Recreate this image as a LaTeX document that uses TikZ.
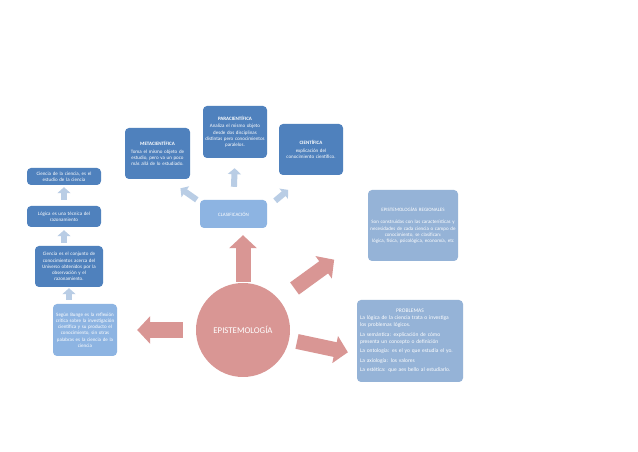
\documentclass[tikz,border=0pt]{standalone}
\usepackage{fontspec}
\setmainfont{Carlito}
\usetikzlibrary{arrows.meta, positioning, calc}
\definecolor{boxdark}{RGB}{79,129,189}
\definecolor{boxlight}{RGB}{141,180,226}
\definecolor{boxside}{RGB}{149,179,215}
\definecolor{epipink}{RGB}{217,150,148}
\definecolor{arrowgray}{RGB}{185,205,229}
\tikzset{
  darkbox/.style={rectangle, fill=boxdark, text=white, align=center,
    rounded corners=4pt, inner sep=1pt, font=\fontsize{5}{6.2}\selectfont},
  lightbox/.style={darkbox, fill=boxlight},
  sidebox/.style={darkbox, fill=boxside},
  bigarrow/.style={line width=15pt, draw=epipink, -{Triangle[length=13pt, width=27pt]}},
  smallarrow/.style={line width=6pt, draw=arrowgray, -{Triangle[length=6pt, width=13pt]}}
}
\begin{document}
\begin{tikzpicture}[x=1pt, y=1pt]
\useasboundingbox[fill=white] (0,0) rectangle (638,452);

%--- CENTRE ---
\node[circle, fill=epipink, minimum size=94pt, inner sep=0pt, text=white,
  font=\fontsize{8.8}{10}\selectfont] (epi) at (243,122) {EPISTEMOLOGÍA};

%--- LEFT COLUMN ---
\node[darkbox, text width=72pt, minimum height=17pt] (cdc) at (64,275.5)
  {Ciencia de la ciencia, es el\\estudio de la ciencia};
\node[darkbox, text width=72pt, minimum height=21pt] (logica) at (64,235.5)
  {Lógica es una técnica del\\razonamiento};
\node[darkbox, text width=66pt, minimum height=41pt] (ciencia) at (69,185.5)
  {Ciencia es el conjunto de\\conocimientos acerca del\\Universo obtenidos por la\\observación y el\\razonamiento.};
\node[lightbox, text width=62pt, minimum height=52pt] (bunge) at (85,122)
  {Según Bunge es la reflexión\\crítica sobre la investigación\\científica y su producto el\\conocimiento, sin otras\\palabras es la ciencia de la\\ciencia};

\draw[smallarrow, shorten <=4pt, shorten >=1pt] (bunge.north -| ciencia.south) -- (ciencia.south);
\draw[smallarrow, shorten <=3pt, shorten >=3pt] (ciencia.north -| logica.south) -- (logica.south);
\draw[smallarrow, shorten <=6pt, shorten >=2pt] (logica.north) -- (cdc.south);

%--- CLASIFICACION ---
\node[lightbox, text width=65pt, minimum height=28pt] (clas) at (233.5,238) {CLASIFICACIÓN};
\node[darkbox, text width=63pt, minimum height=51pt] (meta) at (157.5,298.5)
  {\textbf{METACIENTÍFICA}\\[2pt]Toma el mismo objeto de\\estudio, pero va un poco\\más allá de lo estudiado.};
\node[darkbox, text width=62pt, minimum height=52pt] (para) at (235,320)
  {\textbf{PARACIENTÍFICA}\\[1pt]Analiza el mismo objeto\\desde dos disciplinas\\distintas pero conocimientos\\paralelos.};
\node[darkbox, text width=62pt, minimum height=51pt] (cient) at (311,302.5)
  {\textbf{CIENTÍFICA}\\[1pt]explicación del\\conocimiento científico.};

\draw[smallarrow] ([xshift=-3pt]clas.north west) -- ++(145:20);
\draw[smallarrow, shorten <=13pt, shorten >=10pt] (clas.north) -- (para.south);
\draw[smallarrow] ([xshift=8pt,yshift=-1pt]clas.north east) -- ++(40:17);

%--- RIGHT ---
\node[sidebox, text width=88pt, minimum height=71pt] (regional) at (413,226.5)
  {EPISTEMOLOGÍAS REGIONALES\\[6pt]Son construidas con las características y\\necesidades de cada ciencia o campo de\\conocimiento, se clasifican:\\lógica, física, psicológica, economía, etc};
\node[sidebox, align=left, text width=100pt, minimum height=82pt, inner sep=3pt,
  font=\fontsize{5.5}{7}\selectfont] (prob) at (410,111)
  {\makebox[100pt]{PROBLEMAS}\\
   La lógica de la ciencia trata o investiga\\los problemas lógicos.\\[2.5pt]
   La semántica: explicación de cómo\\presenta un concepto o definición\\[2.5pt]
   La ontología: es el yo que estudia el yo.\\[2.5pt]
   La axiología: los valores\\[2.5pt]
   La estética: que aes bello al estudiarlo.};

%--- BIG ARROWS ---
\draw[bigarrow, shorten <=1pt, shorten >=7pt] (epi.north) -- (epi.north |- clas.south);
\draw[bigarrow, line width=16pt, shorten <=13pt, shorten >=20pt] (epi.west) -- (bunge.east);
\draw[bigarrow, shorten <=8pt] (epi.-12) -- ++(-12:60);
\draw[bigarrow, shorten <=19pt] (epi.40) -- ++(36:68);
\end{tikzpicture}
\end{document}
